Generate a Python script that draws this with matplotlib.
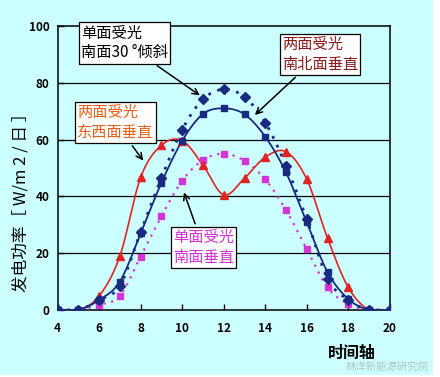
import numpy as np
import matplotlib
matplotlib.use("Agg")
import matplotlib.pyplot as plt
from matplotlib.patches import Rectangle

plt.rcParams['font.family'] = ['Noto Sans CJK SC', 'DejaVu Sans']

# ================= DATA =================
hours = [4, 5, 6, 7, 8, 9, 10, 11, 12, 13, 14, 15, 16, 17, 18, 19, 20]

south_tilt30 = [0, 0, 3.5, 8.5, 27.5, 46.5, 63.5, 74.2, 77.7, 75.0, 66.0, 50.8, 31.9, 11.0, 3.5, 0, 0]
ns_vertical = [0, 0, 3.5, 10.0, 27.0, 44.8, 59.6, 69.0, 71.0, 68.9, 61.0, 48.4, 30.8, 13.3, 3.8, 0, 0]
ew_vertical = [0, 0, 4.9, 19.0, 46.7, 58.0, 59.6, 51.0, 40.5, 46.4, 53.8, 55.7, 46.0, 25.2, 7.9, 0, 0]
south_vertical = [0, 0, 1.8, 5.0, 18.8, 33.0, 45.5, 52.8, 55.0, 52.5, 46.0, 35.2, 21.4, 7.9, 2.1, 0, 0]

x_ticks = [4, 6, 8, 10, 12, 14, 16, 18, 20]
y_ticks = [0, 20, 40, 60, 80, 100]

BG = "#ccffff"
NAVY = "#1a2a80"
RED = "#e02424"
MAGENTA = "#d633d6"


def smooth(xs, ys, n=12):
    # Catmull-Rom style smoothing, like an Excel "smoothed line"
    xs = np.asarray(xs, float)
    ys = np.asarray(ys, float)
    px = np.concatenate([[2 * xs[0] - xs[1]], xs, [2 * xs[-1] - xs[-2]]])
    py = np.concatenate([[ys[0]], ys, [ys[-1]]])
    out_x, out_y = [], []
    for i in range(1, len(px) - 2):
        t = np.linspace(0, 1, n, endpoint=False)
        for arr, out in ((px, out_x), (py, out_y)):
            p0, p1, p2, p3 = arr[i - 1], arr[i], arr[i + 1], arr[i + 2]
            out.extend(0.5 * ((2 * p1) + (-p0 + p2) * t
                              + (2 * p0 - 5 * p1 + 4 * p2 - p3) * t ** 2
                              + (-p0 + 3 * p1 - 3 * p2 + p3) * t ** 3))
    out_x.append(xs[-1])
    out_y.append(ys[-1])
    return np.array(out_x), np.clip(out_y, 0, None)


fig = plt.figure(figsize=(4.4, 3.77), dpi=100)
fig.patch.set_facecolor(BG)
ax = fig.add_axes([0.131, 0.178, 0.755, 0.753])
ax.set_facecolor(BG)

# ---------- curves ----------
sx, sy = smooth(hours, south_vertical)
ax.plot(sx, sy, color=MAGENTA, lw=1.6, ls=(0, (1, 2.5)), zorder=3)
ax.plot(hours, south_vertical, "s", color=MAGENTA, ms=4.8, zorder=4)

sx, sy = smooth(hours, ew_vertical)
ax.plot(sx, sy, color=RED, lw=1.2, zorder=3)
ax.plot(hours, ew_vertical, "^", color=RED, ms=5.5, zorder=4)

sx, sy = smooth(hours, ns_vertical)
ax.plot(sx, sy, color=NAVY, lw=1.3, zorder=3)
ax.plot(hours, ns_vertical, "s", color=NAVY, ms=4.2, zorder=4)

sx, sy = smooth(hours, south_tilt30)
ax.plot(sx, sy, color=NAVY, lw=2.0, ls=(0, (1, 2.5)), zorder=3)
ax.plot(hours, south_tilt30, "D", color=NAVY, ms=4.8, zorder=4)

# ---------- axes ----------
ax.set_xlim(4, 20)
ax.set_ylim(0, 100)
ax.set_xticks(x_ticks)
ax.set_yticks(y_ticks)
ax.tick_params(direction="in", length=4, width=1, labelsize=8.5, pad=6)
for lab in ax.get_xticklabels() + ax.get_yticklabels():
    lab.set_fontweight("bold")
ax.tick_params(axis="x", pad=9)
for y in [20, 40, 60, 80]:
    ax.axhline(y, color="black", lw=0.9, zorder=1)
for sp in ax.spines.values():
    sp.set_linewidth(1.1)

fig.text(0.048, 0.475, "发电功率［ W/m 2 / 日 ］", fontsize=12, rotation=90,
         ha="center", va="center")
fig.text(0.80, 0.064, "时间轴", fontsize=11.5, fontweight="bold", ha="center", va="center")
fig.text(0.88, 0.018, "林洋新能源研究院", fontsize=7.5, color="#b0c4c4", ha="center")

# ---------- annotations ----------
box = dict(boxstyle="square,pad=0.15", fc="white", ec="black", lw=0.9)
arr = dict(arrowstyle="->", color="black", lw=1.1)

ax.annotate("单面受光\n南面30 °倾斜", xy=(10.96, 75.0), xytext=(5.13, 94.0),
            fontsize=11, color="black", bbox=box, arrowprops=arr,
            va="center", ha="left", linespacing=1.2, annotation_clip=False)
ax.annotate("两面受光\n东西面垂直", xy=(8.2, 51.8), xytext=(4.94, 66.0),
            fontsize=11, color="#e8601c", bbox=box, arrowprops=arr,
            va="center", ha="left", linespacing=1.2)
ax.annotate("两面受光\n南北面垂直", xy=(13.4, 68.0), xytext=(14.8, 90.0),
            fontsize=11, color="#8b1c1c", bbox=box, arrowprops=arr,
            va="center", ha="left", linespacing=1.2)
ax.annotate("单面受光\n南面垂直", xy=(10.04, 42.3), xytext=(9.56, 22.0),
            fontsize=11, color=MAGENTA, bbox=box, arrowprops=arr,
            va="center", ha="left", linespacing=1.2)

# white strips at the right and bottom edge of the picture
fig.patches.append(Rectangle((0.984, 0), 0.016, 1, transform=fig.transFigure,
                             fc="white", ec="none"))
fig.patches.append(Rectangle((0, 0), 1, 0.006, transform=fig.transFigure,
                             fc="white", ec="none"))

fig.savefig("out.png", dpi=100, facecolor=fig.get_facecolor())
